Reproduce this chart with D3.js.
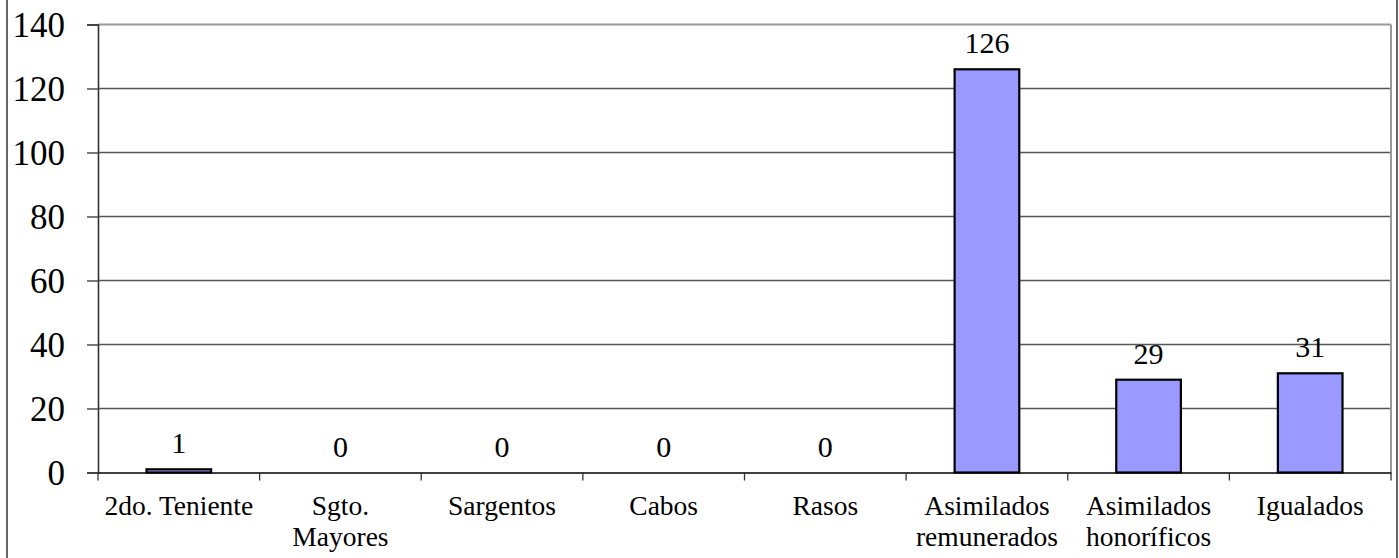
<!DOCTYPE html>
<html>
<head>
<meta charset="utf-8">
<script src="https://cdn.jsdelivr.net/npm/d3@7"></script>
<style>
  html, body { margin: 0; padding: 0; background: #fff; }
  svg { display: block; }
</style>
</head>
<body>
<svg id="chart" width="1399" height="558"></svg>
<script>
const categories = ["2do. Teniente", "Sgto.\nMayores", "Sargentos", "Cabos", "Rasos", "Asimilados\nremunerados", "Asimilados\nhonoríficos", "Igualados"];
const values = [1, 0, 0, 0, 0, 126, 29, 31];
const yTicks = [0, 20, 40, 60, 80, 100, 120, 140];

const FONT = "'Liberation Serif', 'Times New Roman', Tinos, 'DejaVu Serif', serif";
const W = 1399, H = 558;
const m = { left: 98, right: 1391, top: 24.5, bottom: 472.5 };
const svg = d3.select("#chart");

// outer frame
svg.append("rect").attr("x", 7).attr("y", -5).attr("width", 1390).attr("height", H + 10)
  .attr("fill", "none").attr("stroke", "#000").attr("stroke-width", 1.2);

const x = d3.scaleBand().domain(categories).range([m.left, m.right]).paddingInner(0).paddingOuter(0);
const y = d3.scaleLinear().domain([0, 140]).range([m.bottom, m.top]);

// gridlines
svg.append("g").selectAll("line").data(yTicks.filter(d => d > 0 && d < 140)).join("line")
  .attr("x1", m.left).attr("x2", m.right)
  .attr("y1", d => y(d)).attr("y2", d => y(d))
  .attr("stroke", "#555").attr("stroke-width", 1.3);

// top and right border
svg.append("line").attr("x1", m.left).attr("x2", m.right).attr("y1", y(140)).attr("y2", y(140))
  .attr("stroke", "#999").attr("stroke-width", 2);
svg.append("line").attr("x1", m.right).attr("x2", m.right).attr("y1", y(140)).attr("y2", y(0))
  .attr("stroke", "#999").attr("stroke-width", 2);

// bars
const bw = x.bandwidth() * 0.4;
svg.append("g").selectAll("rect").data(categories).join("rect")
  .attr("x", d => x(d) + (x.bandwidth() - bw) / 2)
  .attr("width", bw)
  .attr("y", (d, i) => y(values[i]))
  .attr("height", (d, i) => y(0) - y(values[i]))
  .attr("fill", "#9999ff").attr("stroke", "#000").attr("stroke-width", 2.2);

// value labels
svg.append("g").selectAll("text").data(categories).join("text")
  .attr("x", d => x(d) + x.bandwidth() / 2)
  .attr("y", (d, i) => y(values[i]) - 16)
  .attr("text-anchor", "middle")
  .attr("fill", "#000")
  .style("font-family", FONT)
  .style("font-size", "30px")
  .text((d, i) => values[i]);

// y axis
const yAxis = d3.axisLeft(y).tickValues(yTicks).tickSize(11).tickPadding(22).tickFormat(d3.format("d"));
const gy = svg.append("g").attr("transform", `translate(${m.left},0)`).call(yAxis);
gy.attr("font-family", null);
gy.select(".domain").attr("stroke", "#333").attr("stroke-width", 1.6);
gy.selectAll(".tick line").attr("stroke", "#333").attr("stroke-width", 1.3);
gy.selectAll(".tick text").style("font-size", "35px").style("font-family", FONT).attr("fill", "#000").attr("dy", "0.34em");

// x axis
const xAxis = d3.axisBottom(x).tickSize(0).tickFormat("");
const gx = svg.append("g").attr("transform", `translate(0,${m.bottom})`).call(xAxis);
gx.select(".domain").attr("stroke", "#000").attr("stroke-width", 1.6);
gx.selectAll(".tick").remove();
// category boundary ticks
const bounds = categories.map(d => x(d)).concat([m.right]);
svg.append("g").selectAll("line").data(bounds).join("line")
  .attr("x1", d => d).attr("x2", d => d).attr("y1", m.bottom).attr("y2", m.bottom + 8)
  .attr("stroke", "#333").attr("stroke-width", 1.3);

// category labels
const lab = svg.append("g").selectAll("text").data(categories).join("text")
  .attr("x", d => x(d) + x.bandwidth() / 2)
  .attr("y", 515)
  .attr("text-anchor", "middle")
  .attr("fill", "#000")
  .style("font-family", FONT)
  .style("font-size", "27.5px");
lab.each(function(d) {
  const lines = d.split("\n");
  d3.select(this).selectAll("tspan").data(lines).join("tspan")
    .attr("x", x(d) + x.bandwidth() / 2)
    .attr("dy", (l, i) => i === 0 ? 0 : 31)
    .text(l => l);
});
</script>
</body>
</html>
